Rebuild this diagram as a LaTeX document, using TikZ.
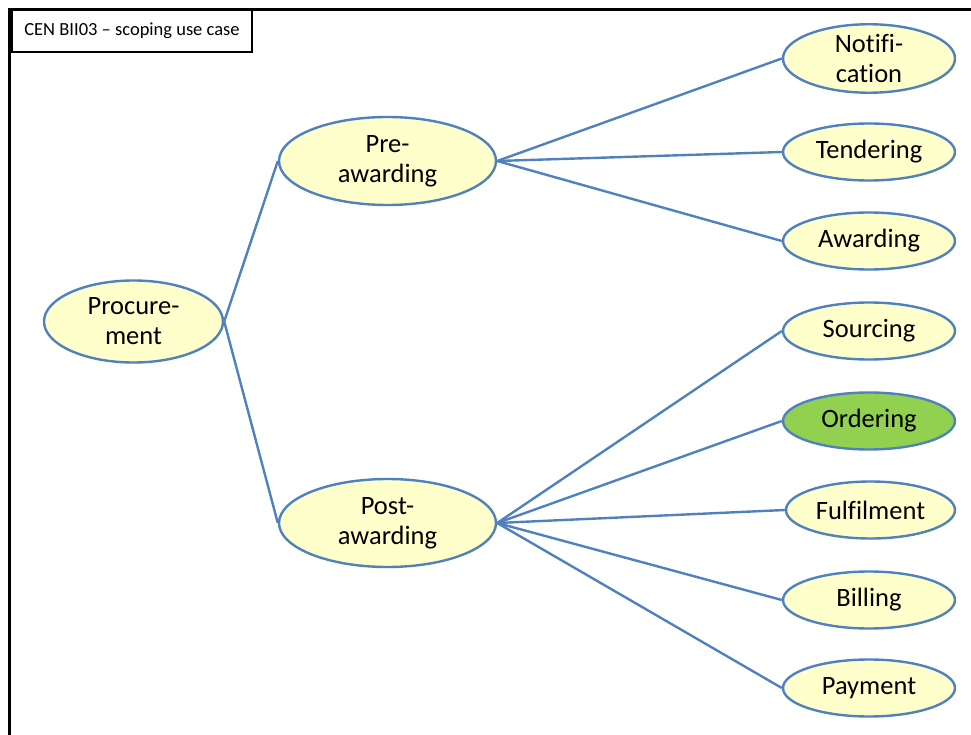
\documentclass[tikz,border=0pt]{standalone}
\usepackage{fontspec}
\setmainfont[Ligatures=NoCommon]{Carlito}
\usetikzlibrary{shapes.geometric}
\definecolor{edgeblue}{HTML}{4F81BD}
\definecolor{paleyellow}{HTML}{FFFFCC}
\definecolor{ordergreen}{HTML}{92D050}

\begin{document}
\begin{tikzpicture}
                [x=1pt, y=-1pt,
                phase/.style={ellipse, draw=edgeblue, line width=2.4pt, fill=paleyellow,
                    inner sep=0pt, align=center, font=\fontsize{26.5}{30}\selectfont},
                main phase/.style={phase, minimum width=217pt, minimum height=88pt},
                sub phase/.style={phase, minimum width=172pt, minimum height=57pt},
                link/.style={draw=edgeblue, line width=2.4pt},
                ]
                \useasboundingbox (0,0) rectangle (971,735);
                \draw[line width=3pt] (9.5,735) -- (9.5,9.5) -- (971,9.5);
                \node[draw, line width=2pt, minimum width=240pt, minimum height=42pt,
                    inner sep=0pt, font=\fontsize{18.5}{22}\selectfont]
                    (title) at (132,31) {CEN BII03 -- scoping use case};

                \node[phase, minimum width=179pt, minimum height=82pt]
                    (proc) at (133.5,321.5) {Procure-\\ment};
                \node[main phase] (pre) at (387.5,161) {Pre-\\awarding};
                \node[main phase] (post) at (387.5,523) {Post-\\awarding};

                \node[sub phase, minimum height=66pt] (notif) at (869,58.5) {Notifi-\\cation};
                \node[sub phase] (tender) at (869,152) {Tendering};
                \node[sub phase] (award) at (869,241) {Awarding};
                \node[sub phase] (source) at (869,331) {Sourcing};
                \node[sub phase, fill=ordergreen] (order) at (869,421) {Ordering};
                \node[sub phase, minimum width=169pt] (fulfil) at (870.5,510) {Fulfilment};
                \node[sub phase] (bill) at (869,600) {Billing};
                \node[sub phase] (pay) at (869,688) {Payment};

                \draw[link] (proc.east) -- (pre.west);
                \draw[link] (proc.east) -- (post.west);

                \draw[link] (pre.east) -- (notif.west);
                \draw[link] (pre.east) -- (tender.west);
                \draw[link] (pre.east) -- (award.west);

                \draw[link] (post.east) -- (source.west);
                \draw[link] (post.east) -- (order.west);
                \draw[link] (post.east) -- (fulfil.west);
                \draw[link] (post.east) -- (bill.west);
                \draw[link] (post.east) -- (pay.west);
            \end{tikzpicture}
\end{document}
